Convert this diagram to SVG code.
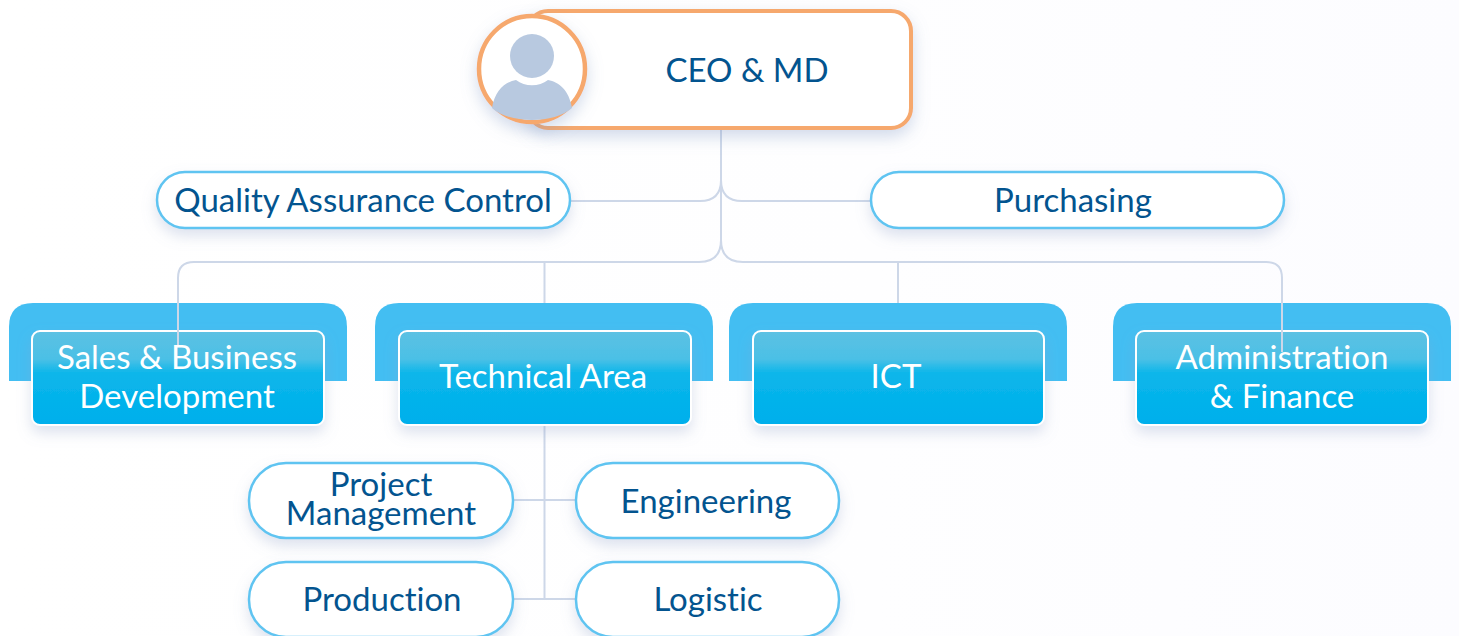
<svg xmlns="http://www.w3.org/2000/svg" width="1459" height="636" viewBox="0 0 1459 636">
<defs>
<linearGradient id="bg" x1="0" y1="0" x2="1" y2="0"><stop offset="0" stop-color="#ffffff"/><stop offset="0.6" stop-color="#fefeff"/><stop offset="1" stop-color="#fcfcff"/></linearGradient>
<linearGradient id="card" x1="0" y1="0" x2="0" y2="1"><stop offset="0" stop-color="#5cc1e3"/><stop offset="0.3" stop-color="#4bc0e6"/><stop offset="0.45" stop-color="#0ab6ea"/><stop offset="1" stop-color="#00afec"/></linearGradient>
<filter id="sh" x="-20%" y="-30%" width="140%" height="170%"><feDropShadow dx="0" dy="7" stdDeviation="7" flood-color="#8d9fc8" flood-opacity="0.3"/></filter>
<filter id="shc" x="-30%" y="-30%" width="160%" height="170%"><feDropShadow dx="0" dy="7" stdDeviation="8" flood-color="#7f97c4" flood-opacity="0.35"/></filter>
</defs>
<style>
text{font-family:"Lato","Open Sans","Liberation Sans",sans-serif;text-anchor:middle;font-variant-ligatures:none;font-size:33px}
.dark{fill:#03548f}
.lt{fill:#fff}
.tab{fill:#43bef2}
.card{fill:url(#card);stroke:#fff;stroke-width:2;filter:url(#sh)}
.pill{fill:#fff;stroke:#5fc4f1;stroke-width:2.500;filter:url(#sh)}
.con{fill:none;stroke:#cdd7e8;stroke-width:2}
</style>
<rect width="1459" height="636" fill="url(#bg)"/>
<g id="connectors" class="con">
<path d="M721 128V180Q721 201 700 201H570"/>
<path d="M721 128V180Q721 201 742 201H872"/>
<path d="M721 128V240Q721 262 699 262H194Q178 262 178 278V305"/>
<path d="M721 240Q721 262 743 262H1266Q1282 262 1282 278V305"/>
<path d="M544.500 262V303"/>
<path d="M898 262V303"/>
<path d="M544.500 426V599"/>
<path d="M513 500H576"/>
<path d="M513 599H576"/>
</g>
<g id="ceo">
<rect x="528" y="11" width="383" height="117" rx="20" fill="#fff" stroke="#f6a86d" stroke-width="4" filter="url(#shc)"/>
<text x="747" y="82" class="dark">CEO &amp; MD</text>
<circle cx="532" cy="69" r="53" fill="#fff" stroke="#f6a86d" stroke-width="4.500" filter="url(#shc)"/>
<circle cx="532" cy="56" r="22" fill="#b8c9e0"/>
<path d="M492 108C495 90 505 82 516 80C525 87 539 87 548 80C559 82 569 90 572 108C563 116 548 120 532 120C516 120 501 116 492 108Z" fill="#b8c9e0"/>
</g>
<g id="qa"><rect x="157" y="172" width="413" height="56" rx="28" class="pill"/><text x="363" y="212" class="dark">Quality Assurance Control</text></g>
<g id="purchasing"><rect x="871" y="172" width="413" height="56" rx="28" class="pill"/><text x="1073" y="212" class="dark">Purchasing</text></g>
<g id="sales">
<path class="tab" d="M9 381V327Q9 303 33 303H323Q347 303 347 327V381Z"/>
<rect x="32" y="331" width="292" height="94" rx="8" class="card"/>
<path class="con" d="M178 300V345"/>
<text class="lt"><tspan x="177" y="369">Sales &amp; Business</tspan><tspan x="177" y="408">Development</tspan></text>
</g>
<g id="technical">
<path class="tab" d="M375 381V327Q375 303 399 303H689Q713 303 713 327V381Z"/>
<rect x="399" y="331" width="292" height="94" rx="8" class="card"/>
<text x="543" y="388" class="lt">Technical Area</text>
</g>
<g id="ict">
<path class="tab" d="M729 381V327Q729 303 753 303H1043Q1067 303 1067 327V381Z"/>
<rect x="753" y="331" width="291" height="94" rx="8" class="card"/>
<text x="896" y="388" class="lt">ICT</text>
</g>
<g id="admin">
<path class="tab" d="M1113 381V327Q1113 303 1137 303H1427Q1451 303 1451 327V381Z"/>
<rect x="1136" y="331" width="292" height="94" rx="8" class="card"/>
<path class="con" d="M1282 300V352"/>
<text class="lt"><tspan x="1282" y="369">Administration</tspan><tspan x="1282" y="408">&amp; Finance</tspan></text>
</g>
<g id="project"><rect x="249" y="463" width="264" height="75" rx="37" class="pill"/><text class="dark"><tspan x="381" y="496">Project</tspan><tspan x="381" y="525">Management</tspan></text></g>
<g id="engineering"><rect x="576" y="463" width="263" height="75" rx="37" class="pill"/><text x="706" y="513" class="dark">Engineering</text></g>
<g id="production"><rect x="249" y="562" width="264" height="75" rx="37" class="pill"/><text x="382" y="611" class="dark">Production</text></g>
<g id="logistic"><rect x="576" y="562" width="263" height="75" rx="37" class="pill"/><text x="708" y="611" class="dark">Logistic</text></g>
</svg>
